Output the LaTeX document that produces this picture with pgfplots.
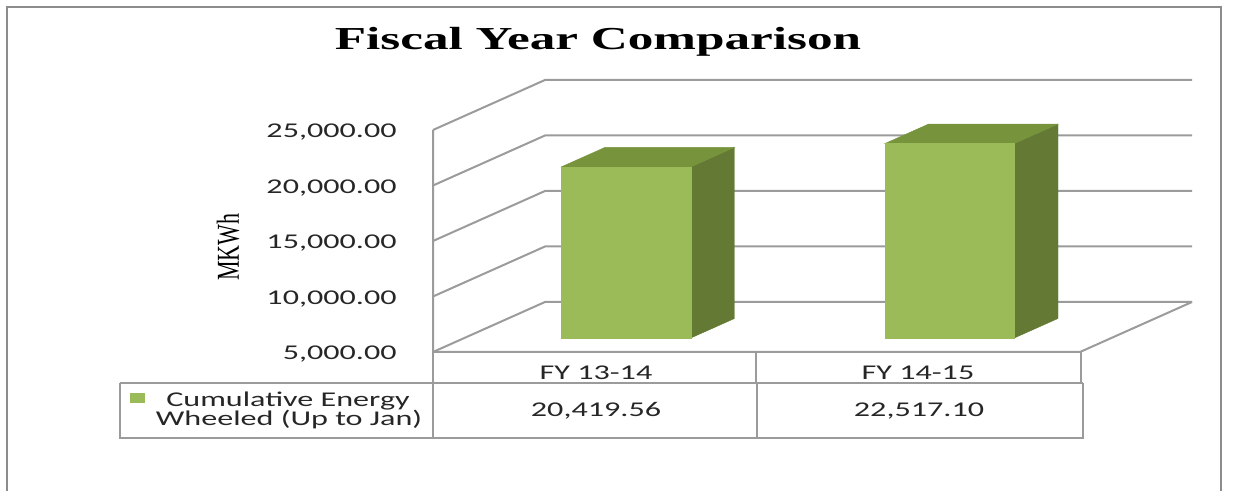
\documentclass[border=0pt]{standalone}
\usepackage{pgfplots}
\pgfplotsset{compat=1.18}
\usepackage{fontspec}
\usepackage{graphicx}
\setmainfont{Carlito}
\newfontfamily\titlefont{Liberation Serif}[FakeStretch=1.6]
\newfontfamily\calfont{Carlito}[FakeStretch=1.53]
\newfontfamily\serfont{Liberation Serif}
\definecolor{barfront}{RGB}{155,187,89}
\definecolor{bartop}{RGB}{119,147,60}
\definecolor{barside}{RGB}{100,122,52}
\definecolor{gridgray}{RGB}{155,155,155}
\definecolor{framegray}{RGB}{140,140,140}
\definecolor{txt}{RGB}{38,38,38}
% data (MKWh)
\def\vA{20419.56}
\def\vB{22517.10}
\newcommand{\tdbar}[3]{%
 \addplot3[fill=barside, draw=barside, line width=0.2pt] coordinates {(#2,0.28,5000) (#2,0.67,5000) (#2,0.67,#3) (#2,0.28,#3)} -- cycle;
 \addplot3[fill=bartop, draw=bartop, line width=0.2pt] coordinates {(#1,0.28,#3) (#2,0.28,#3) (#2,0.67,#3) (#1,0.67,#3)} -- cycle;
 \addplot3[fill=barfront, draw=barfront, line width=0.2pt] coordinates {(#1,0.28,5000) (#2,0.28,5000) (#2,0.28,#3) (#1,0.28,#3)} -- cycle;
}
\begin{document}
\begin{tikzpicture}
\begin{axis}[x={(161.75pt,0pt)}, y={(56pt,25pt)}, z={(0pt,0.00555pt)},
  xmin=-0.5, xmax=1.5, ymin=0, ymax=1, zmin=5000, zmax=25000,
  hide axis, clip=false, no marks]
\coordinate (O) at (axis cs:-0.5,0,5000);
\pgfplotsinvokeforeach{5000,10000,15000,20000,25000}{
  \draw[gridgray, line width=1pt] (axis cs:-0.5,0,#1) -- (axis cs:-0.5,1,#1) -- (axis cs:1.5,1,#1);
}
\draw[gridgray, line width=1pt] (axis cs:-0.5,0,25000) -- (axis cs:-0.5,0,5000) -- (axis cs:1.5,0,5000) -- (axis cs:1.5,1,5000);
\tdbar{-0.2}{0.2}{\vA}
\tdbar{0.8}{1.2}{\vB}
\end{axis}
\begin{scope}[shift={(O)}]
\begin{scope}[x=0.5pt, y=-0.5pt, shift={(-433,-352)}]
\path[use as bounding box] (0,0) rectangle (1235,491);
\draw[framegray, line width=1.2pt] (7,491) -- (7,7) -- (1221,7) -- (1221,491);
\node[anchor=base, inner sep=0pt] at (598,50) {\titlefont\bfseries\fontsize{16}{19}\selectfont Fiscal Year Comparison};
\node[rotate=90, inner sep=0pt] at (228,247) {\scalebox{1}[1.45]{\serfont\fontsize{11}{13}\selectfont MKWh}};
\begin{scope}[every node/.style={inner sep=0pt, text=txt, font=\calfont\fontsize{10.5}{12.6}\selectfont}]
\node[anchor=base east] at (397,138) {25,000.00};
\node[anchor=base east] at (397,193.5) {20,000.00};
\node[anchor=base east] at (397,249) {15,000.00};
\node[anchor=base east] at (397,304.5) {10,000.00};
\node[anchor=base east] at (397,360) {5,000.00};
\node[anchor=base] at (596,380) {FY 13-14};
\node[anchor=base] at (918,380) {FY 14-15};
\node[anchor=base] at (596,416.7) {20,419.56};
\node[anchor=base] at (919,416.7) {22,517.10};
\node[anchor=base] at (288,407) {Cumulative Energy};
\node[anchor=base] at (289,426) {Wheeled (Up to Jan)};
\end{scope}
\fill[barfront] (130,393) rectangle (145,403);
\begin{scope}[gridgray, line width=1pt]
\draw (433,352) -- (433,383);
\draw (756,352) -- (756,383);
\draw (1081,352) -- (1081,383);
\draw (120,383) -- (1083,383);
\draw (120,383) -- (120,438) -- (1083,438) -- (1083,383);
\draw (433,383) -- (433,438);
\draw (757,383) -- (757,438);
\end{scope}
\end{scope}
\end{scope}
\end{tikzpicture}
\end{document}
